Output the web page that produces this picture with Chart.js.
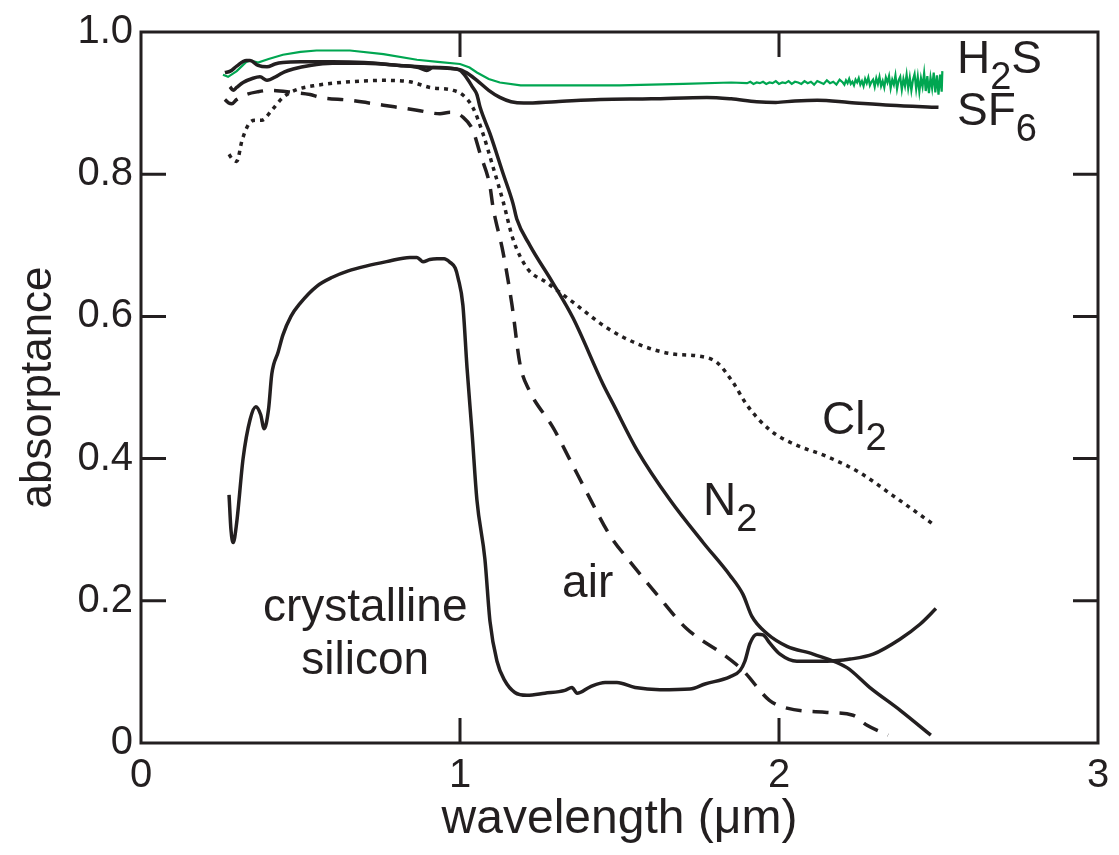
<!DOCTYPE html>
<html lang="en">
  <head>
    <meta charset="UTF-8" />
    <title>Absorptance vs wavelength</title>
    <script src="https://cdn.jsdelivr.net/npm/chart.js"></script>
    <style>
      body {
        margin: 0;
        background: #fff;
      }
      canvas {
        display: block;
      }
    </style>
  </head>
  <body>
    <canvas id="absChart" width="1119" height="855"></canvas>
    <script>
      // values (wavelength in um, absorptance)
      const xTicks = [0, 1, 2, 3];
      const yTicks = [0, 0.2, 0.4, 0.6, 0.8, 1.0];

      const h2sWl = [0.257, 0.273, 0.30, 0.33, 0.342, 0.367, 0.40, 0.445, 0.50, 0.55, 0.655, 0.76, 0.865, 0.93, 1.0, 1.03, 1.053, 1.09, 1.125, 1.19, 1.3, 1.5, 1.7, 1.85,
        1.90, 1.91, 1.92, 1.93, 1.94, 1.95, 1.96, 1.97, 1.98, 1.99, 2.00, 2.01, 2.02, 2.03, 2.04, 2.05, 2.06, 2.07, 2.08, 2.09, 2.10, 2.11, 2.12, 2.13, 2.14, 2.15, 2.16, 2.17, 2.18, 2.19, 2.20,
        2.205, 2.21, 2.215, 2.22, 2.225, 2.23, 2.235, 2.24, 2.245, 2.25, 2.255, 2.26, 2.265, 2.27, 2.275, 2.28, 2.285, 2.29, 2.295, 2.30, 2.305, 2.31, 2.315, 2.32, 2.325, 2.33, 2.335, 2.34, 2.345, 2.35,
        2.355, 2.36, 2.365, 2.37, 2.375, 2.38, 2.385, 2.39, 2.395, 2.40, 2.405, 2.41, 2.415, 2.42, 2.425, 2.43, 2.435, 2.44, 2.445, 2.45, 2.455, 2.46, 2.465, 2.47, 2.475, 2.48, 2.485, 2.49, 2.495, 2.50, 2.505, 2.51, 2.512];
      const h2sAbs = [0.940, 0.937, 0.945, 0.958, 0.960, 0.957, 0.962, 0.968, 0.972, 0.974, 0.974, 0.969, 0.961, 0.958, 0.955, 0.950, 0.943, 0.934, 0.929, 0.925, 0.925, 0.925, 0.927, 0.929,
        0.928, 0.930, 0.927, 0.929, 0.928, 0.930, 0.927, 0.929, 0.928, 0.931, 0.927, 0.929, 0.928, 0.931, 0.927, 0.930, 0.929, 0.927, 0.931, 0.928, 0.930, 0.926, 0.931, 0.929, 0.927, 0.932, 0.928, 0.930, 0.926, 0.933, 0.929,
        0.926, 0.932, 0.928, 0.934, 0.927, 0.930, 0.925, 0.933, 0.929, 0.935, 0.926, 0.931, 0.924, 0.934, 0.928, 0.936, 0.925, 0.930, 0.933, 0.923, 0.935, 0.927, 0.937, 0.924, 0.931, 0.922, 0.936, 0.929, 0.938, 0.921,
        0.933, 0.926, 0.939, 0.920, 0.932, 0.937, 0.919, 0.934, 0.924, 0.940, 0.921, 0.936, 0.918, 0.933, 0.941, 0.920, 0.937, 0.916, 0.935, 0.923, 0.942, 0.917, 0.938, 0.914, 0.936, 0.921, 0.943, 0.915, 0.939, 0.912, 0.940, 0.916, 0.945];

      const sf6Wl = [0.263, 0.28, 0.30, 0.33, 0.342, 0.367, 0.395, 0.42, 0.445, 0.50, 0.60, 0.70, 0.81, 0.915, 0.96, 1.0, 1.03, 1.053, 1.09, 1.125, 1.16, 1.2, 1.3, 1.44, 1.6, 1.774, 1.85, 1.93, 1.99, 2.05, 2.12, 2.22, 2.35, 2.50];
      const sf6Abs = [0.943, 0.945, 0.952, 0.960, 0.960, 0.953, 0.951, 0.955, 0.957, 0.958, 0.958, 0.957, 0.953, 0.950, 0.949, 0.947, 0.940, 0.932, 0.918, 0.908, 0.902, 0.900, 0.902, 0.905, 0.906, 0.908, 0.906, 0.902, 0.901, 0.903, 0.904, 0.901, 0.897, 0.894];

      const n2Wl = [0.279, 0.289, 0.30, 0.32, 0.351, 0.373, 0.395, 0.426, 0.45, 0.477, 0.53, 0.60, 0.70, 0.81, 0.87, 0.896, 0.915, 0.937, 0.97, 1.0, 1.02, 1.04, 1.053, 1.063, 1.094, 1.135, 1.166, 1.178, 1.219, 1.29, 1.354, 1.448, 1.48, 1.555, 1.658, 1.762, 1.846, 1.887, 1.915, 1.962, 2.025, 2.107, 2.213, 2.285, 2.38, 2.476];
      const n2Abs = [0.923, 0.918, 0.922, 0.929, 0.935, 0.937, 0.932, 0.938, 0.944, 0.948, 0.953, 0.956, 0.956, 0.953, 0.950, 0.946, 0.950, 0.950, 0.949, 0.946, 0.936, 0.922, 0.912, 0.894, 0.857, 0.801, 0.759, 0.737, 0.700, 0.648, 0.598, 0.505, 0.477, 0.412, 0.342, 0.282, 0.236, 0.209, 0.178, 0.154, 0.136, 0.125, 0.106, 0.078, 0.046, 0.011];

      const cl2Wl = [0.276, 0.285, 0.30, 0.317, 0.342, 0.36, 0.379, 0.41, 0.445, 0.489, 0.55, 0.655, 0.76, 0.843, 0.906, 0.978, 1.01, 1.04, 1.072, 1.103, 1.135, 1.166, 1.21, 1.27, 1.354, 1.46, 1.564, 1.668, 1.752, 1.806, 1.856, 1.90, 1.972, 2.044, 2.15, 2.254, 2.357, 2.489];
      const cl2Abs = [0.828, 0.822, 0.818, 0.848, 0.873, 0.876, 0.876, 0.890, 0.908, 0.919, 0.925, 0.930, 0.932, 0.930, 0.922, 0.918, 0.911, 0.894, 0.857, 0.811, 0.762, 0.709, 0.668, 0.648, 0.620, 0.584, 0.560, 0.547, 0.544, 0.535, 0.507, 0.475, 0.440, 0.421, 0.403, 0.380, 0.348, 0.306];

      const airWl = [0.263, 0.275, 0.285, 0.30, 0.33, 0.367, 0.404, 0.477, 0.53, 0.561, 0.655, 0.76, 0.865, 0.937, 0.969, 1.01, 1.04, 1.063, 1.094, 1.103, 1.135, 1.163, 1.188, 1.219, 1.235, 1.29, 1.345, 1.398, 1.47, 1.533, 1.617, 1.71, 1.824, 1.887, 1.97, 2.025, 2.15, 2.232, 2.276, 2.342];
      const airAbs = [0.905, 0.900, 0.899, 0.905, 0.912, 0.916, 0.918, 0.915, 0.912, 0.908, 0.904, 0.897, 0.890, 0.885, 0.887, 0.880, 0.862, 0.829, 0.783, 0.755, 0.690, 0.616, 0.533, 0.494, 0.481, 0.445, 0.398, 0.352, 0.292, 0.255, 0.209, 0.161, 0.125, 0.102, 0.060, 0.049, 0.043, 0.039, 0.025, 0.011];

      const siWl = [0.276, 0.282, 0.289, 0.30, 0.32, 0.342, 0.36, 0.375, 0.386, 0.40, 0.41, 0.43, 0.445, 0.47, 0.498, 0.55, 0.60, 0.65, 0.708, 0.77, 0.843, 0.865, 0.884, 0.905, 0.928, 0.95, 0.969, 0.985, 0.994, 1.009, 1.022, 1.038, 1.053, 1.078, 1.094, 1.116, 1.14, 1.172, 1.21, 1.266, 1.329, 1.351, 1.367, 1.408, 1.455, 1.492, 1.549, 1.627, 1.721, 1.768, 1.846, 1.878, 1.893, 1.909, 1.931, 1.95, 1.972, 2.003, 2.056, 2.15, 2.223, 2.295, 2.379, 2.442, 2.492];
      const siAbs = [0.349, 0.300, 0.282, 0.310, 0.400, 0.455, 0.473, 0.462, 0.442, 0.470, 0.519, 0.550, 0.574, 0.600, 0.618, 0.642, 0.655, 0.664, 0.671, 0.677, 0.683, 0.683, 0.677, 0.680, 0.681, 0.681, 0.676, 0.668, 0.654, 0.616, 0.528, 0.435, 0.342, 0.259, 0.171, 0.115, 0.088, 0.071, 0.067, 0.070, 0.074, 0.078, 0.070, 0.079, 0.085, 0.085, 0.078, 0.075, 0.076, 0.083, 0.093, 0.102, 0.115, 0.140, 0.153, 0.152, 0.140, 0.125, 0.115, 0.115, 0.118, 0.125, 0.146, 0.167, 0.189];

      const ink = '#231f20';
      const green = '#00a651';
      const family = '"Liberation Sans", Arial, Helvetica, sans-serif';

      const pts = (xs, ys) => xs.map((x, i) => ({ x: x, y: ys[i] }));

      // curve labels: [main, subscript, tail, x, y] in data units (left/baseline)
      const curveLabels = [
        ['H', '2', 'S', 2.558, 0.943],
        ['SF', '6', '', 2.558, 0.869],
        ['Cl', '2', '', 2.135, 0.435],
        ['N', '2', '', 1.762, 0.321],
        ['air', '', '', 1.32, 0.206],
      ];
      const centredLabels = [
        ['crystalline', 0.703, 0.171],
        ['silicon', 0.703, 0.097],
      ];

      const framePlugin = {
        id: 'frame',
        afterDatasetsDraw(chart) {
          const { ctx, chartArea: a, scales } = chart;
          ctx.save();
          ctx.strokeStyle = ink;
          ctx.lineWidth = 3;
          ctx.strokeRect(a.left, a.top, a.right - a.left, a.bottom - a.top);
          const len = 25;
          ctx.beginPath();
          xTicks.slice(1, -1).forEach((v) => {
            const px = scales.x.getPixelForValue(v);
            ctx.moveTo(px, a.bottom);
            ctx.lineTo(px, a.bottom - len);
            ctx.moveTo(px, a.top);
            ctx.lineTo(px, a.top + len);
          });
          yTicks.slice(1, -1).forEach((v) => {
            const py = scales.y.getPixelForValue(v);
            ctx.moveTo(a.left, py);
            ctx.lineTo(a.left + len, py);
            ctx.moveTo(a.right, py);
            ctx.lineTo(a.right - len, py);
          });
          ctx.stroke();

          // curve labels
          ctx.fillStyle = ink;
          ctx.textBaseline = 'alphabetic';
          ctx.textAlign = 'left';
          curveLabels.forEach(([main, sub, tail, x, y]) => {
            let px = scales.x.getPixelForValue(x);
            const py = scales.y.getPixelForValue(y);
            ctx.font = '46px ' + family;
            ctx.fillText(main, px, py);
            px += ctx.measureText(main).width;
            if (sub) {
              ctx.font = '38px ' + family;
              ctx.fillText(sub, px, py + 16);
              px += ctx.measureText(sub).width;
            }
            if (tail) {
              ctx.font = '46px ' + family;
              ctx.fillText(tail, px, py);
            }
          });
          ctx.font = '46px ' + family;
          ctx.textAlign = 'center';
          centredLabels.forEach(([t, x, y]) => {
            ctx.fillText(t, scales.x.getPixelForValue(x), scales.y.getPixelForValue(y));
          });
          ctx.restore();
        },
      };

      const line = (data, color, width, dash) => ({
        data: data,
        borderColor: color,
        borderWidth: width,
        borderDash: dash,
        pointRadius: 0,
        fill: false,
        cubicInterpolationMode: 'monotone',
        borderCapStyle: 'butt',
      });

      const ctx = document.getElementById('absChart').getContext('2d');
      new Chart(ctx, {
        type: 'line',
        data: {
          datasets: [
            line(pts(siWl, siAbs), ink, 3.5, []),
            line(pts(airWl, airAbs), ink, 3.5, [16, 11]),
            line(pts(cl2Wl, cl2Abs), ink, 3.5, [4, 5]),
            line(pts(n2Wl, n2Abs), ink, 3.5, []),
            line(pts(sf6Wl, sf6Abs), ink, 3.5, []),
            Object.assign(line(pts(h2sWl, h2sAbs), green, 2.2, []), { cubicInterpolationMode: 'default', tension: 0 }),
          ],
        },
        options: {
          responsive: false,
          animation: false,
          devicePixelRatio: 1,
          layout: { padding: { top: 24, right: 21, left: 0, bottom: 0 } },
          plugins: { legend: { display: false }, tooltip: { enabled: false } },
          scales: {
            x: {
              type: 'linear',
              min: 0,
              max: 3,
              afterFit: (s) => { s.height = 112; },
              afterBuildTicks: (s) => { s.ticks = xTicks.map((v) => ({ value: v })); },
              ticks: { color: ink, font: { family: family, size: 40 }, padding: 9, maxRotation: 0 },
              grid: { drawOnChartArea: false, drawTicks: false },
              border: { display: false },
              title: { display: true, text: 'wavelength (μm)', color: ink, font: { family: family, size: 48 }, padding: { top: 0, bottom: 6 } },
            },
            y: {
              min: 0,
              max: 1,
              afterFit: (s) => { s.width = 141; },
              afterBuildTicks: (s) => { s.ticks = yTicks.map((v) => ({ value: v })); },
              ticks: {
                color: ink,
                font: { family: family, size: 40 },
                padding: 8,
                callback: (v) => (v === 0 ? '0' : v.toFixed(1)),
              },
              grid: { drawOnChartArea: false, drawTicks: false },
              border: { display: false },
              title: { display: true, text: 'absorptance', color: ink, font: { family: family, size: 44 }, padding: { top: 12, bottom: 0 } },
            },
          },
        },
        plugins: [framePlugin],
      });
    </script>
  </body>
</html>
